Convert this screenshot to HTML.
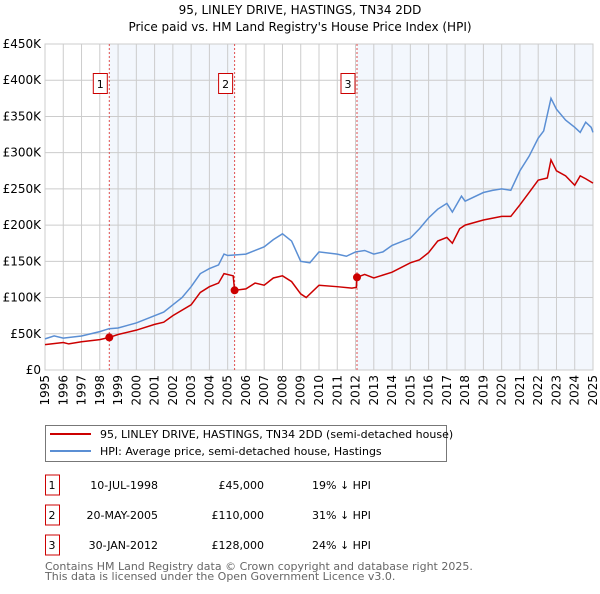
<!DOCTYPE html>
<html><head><meta charset="utf-8"><style>
body{margin:0;background:#fff;font-family:"DejaVu Sans","Liberation Sans",sans-serif;}
svg text{font-family:"DejaVu Sans","Liberation Sans",sans-serif;}
</style></head><body>
<svg id="c" width="600" height="590" viewBox="0 0 600 590">
<text x="300" y="14" text-anchor="middle" font-size="12">95, LINLEY DRIVE, HASTINGS, TN34 2DD</text>
<text x="300" y="31" text-anchor="middle" font-size="12">Price paid vs. HM Land Registry's House Price Index (HPI)</text>
<g id="plot"></g>
<g>
<rect x="45.5" y="425.5" width="401" height="36" fill="#fff" stroke="#777"/>
<line x1="50" y1="434" x2="91" y2="434" stroke="#cc0000" stroke-width="2"/>
<text x="100" y="438" font-size="11">95, LINLEY DRIVE, HASTINGS, TN34 2DD (semi-detached house)</text>
<line x1="50" y1="451" x2="91" y2="451" stroke="#5b8fd4" stroke-width="2"/>
<text x="100" y="455" font-size="11">HPI: Average price, semi-detached house, Hastings</text>
</g>
<g id="tbl" font-size="11"></g>
<text x="45" y="570" font-size="11" fill="#666">Contains HM Land Registry data © Crown copyright and database right 2025.</text>
<text x="45" y="580" font-size="11" fill="#666">This data is licensed under the Open Government Licence v3.0.</text>
</svg>
<script>
const yTicks=[0,50,100,150,200,250,300,350,400,450];
const yTickLabels=["£0","£50K","£100K","£150K","£200K","£250K","£300K","£350K","£400K","£450K"];
const years=[1995,1996,1997,1998,1999,2000,2001,2002,2003,2004,2005,2006,2007,2008,2009,2010,2011,2012,2013,2014,2015,2016,2017,2018,2019,2020,2021,2022,2023,2024,2025];
const hpiT=[1995,1995.5,1996,1997,1998,1998.5,1999,2000,2001,2001.5,2002,2002.5,2003,2003.5,2004,2004.5,2004.8,2005,2006,2006.5,2007,2007.5,2008,2008.5,2009,2009.5,2010,2011,2011.5,2012,2012.5,2013,2013.5,2014,2015,2015.5,2016,2016.5,2017,2017.3,2017.8,2018,2019,2019.5,2020,2020.5,2021,2021.5,2022,2022.3,2022.7,2023,2023.5,2024,2024.3,2024.6,2024.9,2025];
const hpiV=[43,47,44,47,53,57,58,65,75,80,90,100,115,133,140,145,160,158,160,165,170,180,188,178,150,148,163,160,157,163,165,160,163,172,182,195,210,222,230,218,240,233,245,248,250,248,275,295,320,330,375,360,345,335,328,342,335,328];
const ppT=[1995,1996,1996.3,1997,1998,1998.52,1999,2000,2001,2001.5,2002,2003,2003.5,2004,2004.5,2004.8,2005.3,2005.38,2006,2006.5,2007,2007.5,2008,2008.5,2009,2009.3,2010,2011,2011.8,2012.05,2012.08,2012.5,2013,2014,2015,2015.5,2016,2016.5,2017,2017.3,2017.7,2018,2019,2020,2020.5,2021,2021.5,2022,2022.5,2022.7,2023,2023.5,2024,2024.3,2024.6,2025];
const ppV=[35,38,36,39,42,45,49,55,63,66,75,90,107,115,120,133,130,110,112,120,117,127,130,122,105,100,117,115,113,114,128,132,127,135,148,152,162,178,183,175,195,200,207,212,212,228,245,262,265,290,275,268,255,268,264,258];
const saleT=[1998.52,2005.38,2012.08];
const saleV=[45,110,128];
const saleLabels=["1","2","3"];
const saleDates=["10-JUL-1998","20-MAY-2005","30-JAN-2012"];
const salePrices=["£45,000","£110,000","£128,000"];
const saleDiffs=["19% ↓ HPI","31% ↓ HPI","24% ↓ HPI"];
const X0=45,X1=593,Y0=370,Y1=44;
const x=t=>X0+(t-1995)/30*(X1-X0);
const y=v=>Y0-v/450*(Y0-Y1);
const NS="http://www.w3.org/2000/svg";
const g=document.getElementById('plot');
function mk(tag,at,parent){const e=document.createElementNS(NS,tag);for(const k in at)e.setAttribute(k,at[k]);(parent||g).appendChild(e);return e;}
let e;
e=mk('rect',{x:x(saleT[0]),y:Y1,width:x(saleT[1])-x(saleT[0]),height:Y0-Y1,fill:'#eef3fc',opacity:0.7});


e=mk('rect',{x:x(saleT[2]),y:Y1,width:X1-x(saleT[2]),height:Y0-Y1,fill:'#eef3fc',opacity:0.7});


years.forEach(t=>{e=mk('line',{x1:x(t),x2:x(t),y1:Y1,y2:Y0,stroke:'#cccccc'});


e=mk('text',{x:0,y:0,'font-size':12,'text-anchor':'end',transform:`translate(${x(t)+4},${Y0+5}) rotate(-90)`});e.textContent=t;

});
yTicks.forEach((v,i)=>{e=mk('line',{x1:X0,x2:X1,y1:y(v),y2:y(v),stroke:'#cccccc'});


e=mk('text',{x:X0-4,y:y(v)+4,'font-size':12,'text-anchor':'end'});e.textContent=yTickLabels[i];

});
e=mk('rect',{x:X0,y:Y1,width:X1-X0,height:Y0-Y1,fill:'none',stroke:'#cccccc'});


saleT.forEach((t,i)=>{e=mk('line',{x1:x(t),x2:x(t),y1:Y1,y2:Y0,stroke:'#e05050','stroke-dasharray':'2,2'});


e=mk('rect',{x:x(t)-16,y:73.5,width:14,height:20,fill:'#fff',stroke:'#cc0000'});


e=mk('text',{x:x(t)-9,y:88,'font-size':11,'text-anchor':'middle'});e.textContent=saleLabels[i];

});
e=mk('polyline',{points:hpiT.map((t,i)=>x(t)+','+y(hpiV[i])).join(' '),fill:'none',stroke:'#5b8fd4','stroke-width':1.5});


e=mk('polyline',{points:ppT.map((t,i)=>x(t)+','+y(ppV[i])).join(' '),fill:'none',stroke:'#cc0000','stroke-width':1.5});


saleT.forEach((t,i)=>{e=mk('circle',{cx:x(t),cy:y(saleV[i]),r:4,fill:'#cc0000'});

});
const tb=document.getElementById('tbl');
[483,513,543].forEach((ry,i)=>{
e=mk('rect',{x:45.5,y:ry-8,width:14,height:20,fill:'#fff',stroke:'#cc0000'},tb);


const cells=[[52,saleLabels[i],'middle'],[158,saleDates[i],'end'],[264,salePrices[i],'end'],[312,saleDiffs[i],'start']];
cells.forEach(c=>{e=mk('text',{x:c[0],y:ry+6,'text-anchor':c[2]},tb);e.textContent=c[1];

});
});
</script>
</body></html>
